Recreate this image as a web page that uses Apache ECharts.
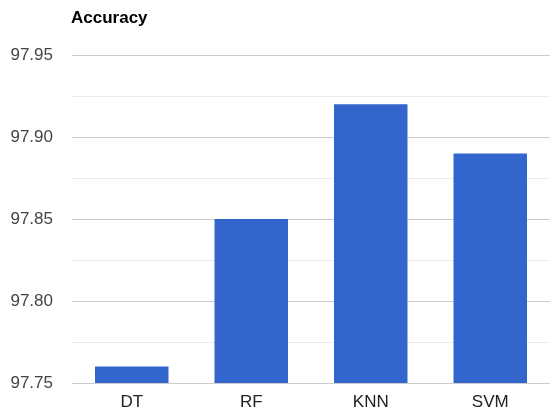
<!DOCTYPE html>
<html>
<head>
<meta charset="utf-8">
<script src="https://cdn.jsdelivr.net/npm/echarts@6/dist/echarts.min.js"></script>
<style>html,body{margin:0;padding:0;background:#fff}#c{width:550px;height:412px}</style>
</head>
<body>
<div id="c"></div>
<script>
const categories = ['DT', 'RF', 'KNN', 'SVM'];
const accuracy = [97.76, 97.85, 97.92, 97.89];
const yMin = 97.75, yMax = 97.95, yStep = 0.05;

const chart = echarts.init(document.getElementById('c'), null, {renderer: 'canvas'});
chart.setOption({
  animation: false,
  title: {
    text: 'Accuracy', left: 66, top: 5,
    textStyle: {fontFamily: 'Liberation Sans, Arial', fontSize: 17, fontWeight: 'bold', color: '#000'}
  },
  grid: {left: 72, right: -4, top: 55, bottom: 29, containLabel: false},
  xAxis: {
    type: 'category', data: categories,
    axisLine: {show: false}, axisTick: {show: false},
    axisLabel: {margin: 11, fontFamily: 'Liberation Sans, Arial', fontSize: 17, color: '#222'}
  },
  yAxis: {
    type: 'value', min: yMin, max: yMax, interval: yStep,
    axisLine: {show: false}, axisTick: {show: false},
    axisLabel: {margin: 19, fontFamily: 'Liberation Sans, Arial', fontSize: 17, color: '#444',
      formatter: v => v.toFixed(2)},
    splitLine: {lineStyle: {color: '#cccccc', width: 1}},
    minorTick: {show: false, splitNumber: 2},
    minorSplitLine: {show: true, lineStyle: {color: '#ebebeb', width: 1}}
  },
  series: [{
    type: 'bar', data: accuracy, barCategoryGap: '38.5%',
    itemStyle: {color: '#3366cc'}
  }]
});
</script>
</body>
</html>
